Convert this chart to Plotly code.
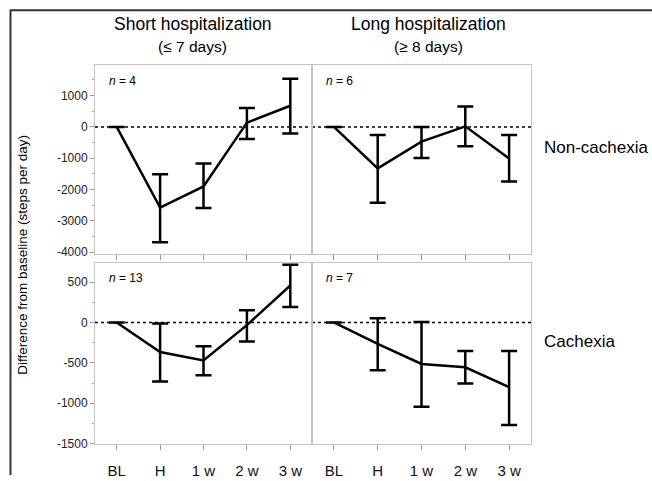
import plotly.graph_objects as go

categories = ["BL", "H", "1 w", "2 w", "3 w"]

# Short hospitalization, non-cachexia (n = 4)
sn_mean = [0, -2575, -1900, 135, 675]
sn_upper = [0, -1510, -1170, 600, 1540]
sn_lower = [0, -3680, -2590, -390, -210]

# Long hospitalization, non-cachexia (n = 6)
ln_mean = [0, -1325, -470, 20, -1010]
ln_upper = [0, -262, 0, 655, -262]
ln_lower = [0, -2420, -990, -615, -1740]

# Short hospitalization, cachexia (n = 13)
sc_mean = [0, -367, -470, -33, 457]
sc_upper = [0, -12, -294, 150, 714]
sc_lower = [0, -731, -653, -237, 191]

# Long hospitalization, cachexia (n = 7)
lc_mean = [0, -266, -514, -555, -800]
lc_upper = [0, 53, 7, -355, -355]
lc_lower = [0, -592, -1045, -755, -1269]

top_ticks = [1000, 0, -1000, -2000, -3000, -4000]
bot_ticks = [500, 0, -500, -1000, -1500]

panels = [
    ("x", "y", sn_mean, sn_upper, sn_lower, "4"),
    ("x2", "y2", ln_mean, ln_upper, ln_lower, "6"),
    ("x3", "y3", sc_mean, sc_upper, sc_lower, "13"),
    ("x4", "y4", lc_mean, lc_upper, lc_lower, "7"),
]

W, H = 652, 481
def px(x):
    return x / W
def py(y):
    return 1 - y / H

fig = go.Figure()
for xa, ya, m, up, lo, n in panels:
    fig.add_trace(go.Scatter(
        x=categories, y=m, xaxis=xa, yaxis=ya, mode="lines",
        line=dict(color="black", width=2.5),
        error_y=dict(type="data", symmetric=False,
                     array=[u - v for u, v in zip(up, m)],
                     arrayminus=[v - l for v, l in zip(m, lo)],
                     color="black", thickness=2.5, width=8),
        showlegend=False, hoverinfo="skip"))

font = "Liberation Sans, Arial"
axis_common = dict(showline=True, linecolor="#c4c4c4", linewidth=1, mirror=True,
                   showgrid=False, zeroline=False)
xcommon = dict(axis_common, type="category", range=[-0.5, 4.5],
               categoryorder="array", categoryarray=categories,
               ticks="outside", ticklen=5, tickcolor="#999999", ticklabelstandoff=8,
               tickfont=dict(family=font, size=15, color="#111111"))

xl = [px(95), px(312)]
xr = [px(312), px(531)]
yt = [py(257), py(66)]
yb = [py(450), py(266)]

layout = dict(
    width=W, height=H, margin=dict(l=0, r=0, t=0, b=0),
    paper_bgcolor="white", plot_bgcolor="white",
    xaxis=dict(xcommon, domain=xl, anchor="y", showticklabels=False),
    xaxis2=dict(xcommon, domain=xr, anchor="y2", showticklabels=False),
    xaxis3=dict(xcommon, domain=xl, anchor="y3"),
    xaxis4=dict(xcommon, domain=xr, anchor="y4"),
)
ycommon = dict(axis_common, ticks="outside", ticklen=4, tickcolor="#999999",
               tickfont=dict(family=font, size=12, color="#222222"))
layout["yaxis"] = dict(ycommon, domain=yt, anchor="x", range=[-4050, 1970],
                       tickvals=top_ticks, ticktext=[str(v) for v in top_ticks],
                       minor=dict(dtick=500, ticks="outside", ticklen=2, tickcolor="#aaaaaa"))
layout["yaxis2"] = dict(axis_common, domain=yt, anchor="x2", range=[-4050, 1970],
                        showticklabels=False, ticks="")
layout["yaxis3"] = dict(ycommon, domain=yb, anchor="x3", range=[-1510, 740],
                        tickvals=bot_ticks, ticktext=[str(v) for v in bot_ticks],
                        minor=dict(dtick=250, ticks="outside", ticklen=2, tickcolor="#aaaaaa"))
layout["yaxis4"] = dict(axis_common, domain=yb, anchor="x4", range=[-1510, 740],
                        showticklabels=False, ticks="")
fig.update_layout(**layout)

shapes = []
for xa, ya in [("x", "y"), ("x2", "y2"), ("x3", "y3"), ("x4", "y4")]:
    shapes.append(dict(type="line", xref=xa + " domain", yref=ya, x0=0, x1=1, y0=0, y1=0,
                       line=dict(color="black", width=1.5, dash="dot"), layer="below"))
# outer frame (top and left edges)
shapes.append(dict(type="line", xref="paper", yref="paper", x0=px(10), x1=1, y0=py(10.5), y1=py(10.5),
                   line=dict(color="#333333", width=2)))
shapes.append(dict(type="line", xref="paper", yref="paper", x0=px(10.5), x1=px(10.5), y0=0, y1=py(10),
                   line=dict(color="#333333", width=2)))
fig.update_layout(shapes=shapes)

ann = []
for xa, ya, m, up, lo, n in panels:
    ann.append(dict(xref=xa + " domain", yref=ya + " domain", x=0.055, y=0.965,
                    xanchor="left", yanchor="top", showarrow=False,
                    text="<i>n</i> = " + n, font=dict(family=font, size=12, color="black")))
ann += [
    dict(xref="paper", yref="paper", x=px(192.5), y=py(24), xanchor="center", yanchor="middle",
         text="Short hospitalization", showarrow=False,
         font=dict(family=font, size=17.5, color="black")),
    dict(xref="paper", yref="paper", x=px(192.5), y=py(47), xanchor="center", yanchor="middle",
         text="(≤ 7 days)", showarrow=False, font=dict(family=font, size=15.5, color="black")),
    dict(xref="paper", yref="paper", x=px(428.5), y=py(24), xanchor="center", yanchor="middle",
         text="Long hospitalization", showarrow=False,
         font=dict(family=font, size=17.5, color="black")),
    dict(xref="paper", yref="paper", x=px(428.5), y=py(47), xanchor="center", yanchor="middle",
         text="(≥ 8 days)", showarrow=False, font=dict(family=font, size=15.5, color="black")),
    dict(xref="paper", yref="paper", x=px(542), y=py(149), xanchor="left", yanchor="middle",
         text="Non-cachexia", showarrow=False, font=dict(family=font, size=17, color="black")),
    dict(xref="paper", yref="paper", x=px(542), y=py(346), xanchor="left", yanchor="middle",
         text="Cachexia", showarrow=False, font=dict(family=font, size=17, color="black")),
    dict(xref="paper", yref="paper", x=px(23), y=py(258), xanchor="center", yanchor="middle",
         textangle=-90, text="Difference from baseline (steps per day)", showarrow=False,
         font=dict(family=font, size=13.5, color="black")),
]
fig.update_layout(annotations=ann)

fig.write_html("out.html", config={"displayModeBar": False},
               post_script="document.body.style.margin='0';document.body.style.overflow='hidden';")
